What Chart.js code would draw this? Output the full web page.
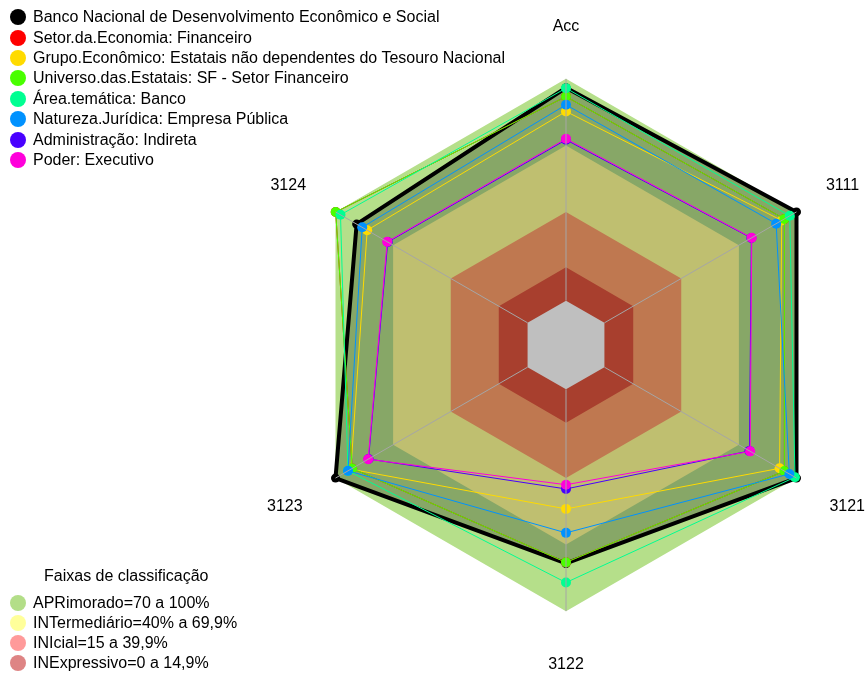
<!DOCTYPE html>
<html lang="pt-BR">
<head>
<meta charset="UTF-8" />
<title>Radar - faixas de classificação</title>
<script src="https://cdn.jsdelivr.net/npm/chart.js"></script>
<style>
  body { margin: 0; background: #fff; font-family: "Liberation Sans", Arial, sans-serif; }
  #wrap { position: relative; width: 866px; height: 680px; overflow: hidden; }
  canvas { position: absolute; left: 0; top: 0; }
  .legend { position: absolute; left: 10px; font-size: 16px; color: #000; }
  .legend .row { display: flex; align-items: center; white-space: nowrap; }
  .legend .dot { width: 16px; height: 16px; border-radius: 50%; margin-right: 7px; flex: none; }
  #seriesLegend { top: 7px; }
  #seriesLegend .row { height: 20.4px; }
  #bandLegend { top: 566px; }
  #bandLegend .row { height: 20px; }
  #bandLegend .title { padding-left: 34px; height: 22px; line-height: 20px; margin-bottom: 5px; }
</style>
</head>
<body>
<div id="wrap">
  <canvas id="radar" width="866" height="680"></canvas>
  <div class="legend" id="seriesLegend"></div>
  <div class="legend" id="bandLegend"><div class="title">Faixas de classificação</div></div>
</div>

<script>
  const axisLabels = ['Acc', '3111', '3121', '3122', '3123', '3124'];

  const seriesNames = [
    'Banco Nacional de Desenvolvimento Econômico e Social',
    'Setor.da.Economia: Financeiro',
    'Grupo.Econômico: Estatais não dependentes do Tesouro Nacional',
    'Universo.das.Estatais: SF - Setor Financeiro',
    'Área.temática: Banco',
    'Natureza.Jurídica: Empresa Pública',
    'Administração: Indireta',
    'Poder: Executivo'
  ];
  const seriesColors = ['#000000', '#FF0000', '#FFDB00', '#49FF00', '#00FF92', '#0092FF', '#4900FF', '#FF00DB'];

  // valores (%) por eixo, na ordem de axisLabels
  const bndes          = [96, 100, 100, 78.5, 100, 89];
  const setorFinanc    = [92, 93.7, 93.7, 78, 91.3, 99.9];
  const grupoEconomico = [85.3, 92.3, 91.2, 53.9, 92, 83.5];
  const universoSF     = [92, 93.7, 93.7, 78, 91.3, 99.9];
  const areaBanco      = [95.8, 96.5, 99.2, 87.1, 93.5, 97.4];
  const empresaPublica = [88.3, 89.4, 96.3, 64.7, 93.5, 86.1];
  const adminIndireta  = [72.5, 76.5, 75.5, 44.9, 82.8, 72.8];
  const poderExecutivo = [73, 76.7, 75.9, 43, 83, 73.1];
  const seriesValues = [bndes, setorFinanc, grupoEconomico, universoSF, areaBanco, empresaPublica, adminIndireta, poderExecutivo];

  // faixas de classificação
  const bandNames = ['APRimorado=70 a 100%', 'INTermediário=40% a 69,9%', 'INIcial=15 a 39,9%', 'INExpressivo=0 a 14,9%'];
  const bandLimits = [100, 70, 40, 15];
  const bandFill = ['#b5df8a', '#ffff96', '#ffa16b', '#e0553e'];
  const bandSwatch = ['#b3de88', '#ffff9a', '#ff9a9a', '#de8484'];

  const labelPadding = [43, 34, 38, 44, 38, 34];
  const font = '"Liberation Sans", Arial, sans-serif';

  // legendas em HTML
  const sl = document.getElementById('seriesLegend');
  seriesNames.forEach((n, i) => {
    sl.insertAdjacentHTML('beforeend',
      `<div class="row"><span class="dot" style="background:${seriesColors[i]}"></span><span>${n}</span></div>`);
  });
  const bl = document.getElementById('bandLegend');
  bandNames.forEach((n, i) => {
    bl.insertAdjacentHTML('beforeend',
      `<div class="row"><span class="dot" style="background:${bandSwatch[i]}"></span><span>${n}</span></div>`);
  });

  const bandDatasets = bandLimits.map((lim, i) => ({
    label: bandNames[i],
    data: axisLabels.map(() => lim),
    backgroundColor: bandFill[i],
    borderWidth: 0,
    pointRadius: 0,
    fill: 'start',
    order: 100 - i
  }));
  // miolo (abaixo de zero) em branco
  bandDatasets.push({
    label: 'centro',
    data: axisLabels.map(() => 0),
    backgroundColor: '#ffffff',
    borderWidth: 0,
    pointRadius: 0,
    fill: 'start',
    order: 90
  });

  const seriesDatasets = seriesValues.map((vals, i) => ({
    label: seriesNames[i],
    data: vals,
    borderColor: seriesColors[i],
    backgroundColor: i === 0 ? 'rgba(0,0,0,0.25)' : seriesColors[i],
    fill: i === 0 ? 'start' : false,
    borderWidth: i === 0 ? 4 : 1,
    borderJoinStyle: 'round',
    pointRadius: i === 0 ? 4.5 : 5,
    pointBackgroundColor: seriesColors[i],
    pointBorderWidth: 0,
    order: 20 - i
  }));

  new Chart(document.getElementById('radar').getContext('2d'), {
    type: 'radar',
    data: {
      labels: axisLabels,
      datasets: bandDatasets.concat(seriesDatasets)
    },
    options: {
      responsive: false,
      animation: false,
      devicePixelRatio: 1,
      layout: { padding: { left: 268, right: 0, top: 17, bottom: 4 } },
      elements: { line: { tension: 0 } },
      plugins: {
        legend: { display: false },
        tooltip: { enabled: false }
      },
      scales: {
        r: {
          min: -20,
          max: 100,
          ticks: { display: false },
          grid: { display: false, z: 1 },
          angleLines: {
            color: '#a6a6a6',
            lineWidth: 1,
            borderDash: (c) => [0, c.chart.scales.r.getDistanceFromCenterForValue(0), 2000]
          },
          pointLabels: {
            color: '#000',
            font: { family: font, size: 16 },
            padding: (c) => labelPadding[c.index]
          }
        }
      }
    }
  });
</script>
</body>
</html>
